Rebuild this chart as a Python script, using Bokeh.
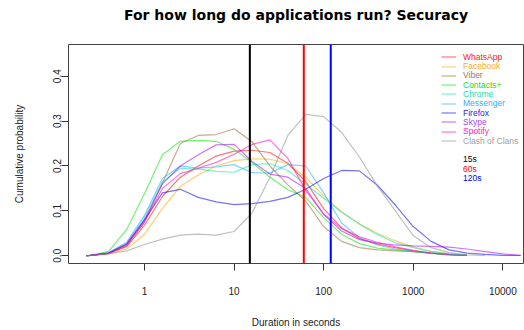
from bokeh.plotting import figure
from bokeh.models import (FixedTicker, Range1d, Span, Title, Legend, LegendItem,
                          BasicTickFormatter, PrintfTickFormatter)
from bokeh.embed import file_html
from bokeh.resources import INLINE

nan = float("nan")

# ---------------- data ----------------
log_duration = [-0.65, -0.6, -0.4, -0.2, 0.0, 0.2, 0.4, 0.6, 0.8, 1.0, 1.2, 1.4, 1.6,
                1.8, 2.0, 2.2, 2.4, 2.6, 2.8, 3.0, 3.2, 3.4, 3.6, 3.8, 4.0, 4.2]

whatsapp = [0, 0.001, 0.005, 0.020, 0.068, 0.132, 0.175, 0.200, 0.222, 0.233, 0.235, 0.230, 0.206,
            0.165, 0.105, 0.062, 0.038, 0.026, 0.018, 0.011, 0.006, 0.003, 0.001, nan, nan, nan]
facebook = [0, 0.001, 0.004, 0.015, 0.048, 0.105, 0.155, 0.180, 0.200, 0.212, 0.216, 0.215, 0.205,
            0.175, 0.133, 0.098, 0.071, 0.050, 0.033, 0.020, 0.010, 0.004, 0.001, nan, nan, nan]
viber = [0, 0.001, 0.005, 0.022, 0.075, 0.162, 0.250, 0.268, 0.270, 0.283, 0.254, 0.200, 0.158,
         0.122, 0.065, 0.032, 0.018, 0.013, 0.011, 0.009, 0.006, 0.003, 0.001, nan, nan, nan]
contacts = [0, 0.001, 0.010, 0.058, 0.138, 0.225, 0.255, 0.257, 0.255, 0.237, 0.208, 0.175, 0.147,
            0.130, 0.085, 0.048, 0.027, 0.017, 0.013, 0.009, 0.005, 0.002, 0.0005, nan, nan, nan]
chrome = [0, 0.001, 0.006, 0.028, 0.085, 0.165, 0.195, 0.193, 0.188, 0.186, 0.203, 0.205, 0.190,
          0.160, 0.128, 0.097, 0.070, 0.047, 0.029, 0.018, 0.009, 0.004, 0.001, nan, nan, nan]
messenger = [0, 0.001, 0.007, 0.030, 0.090, 0.172, 0.200, 0.195, 0.198, 0.203, 0.185, 0.184, 0.203,
             0.200, 0.140, 0.073, 0.040, 0.024, 0.015, 0.010, 0.006, 0.003, 0.001, nan, nan, nan]
firefox = [0, 0.001, 0.006, 0.025, 0.080, 0.140, 0.148, 0.130, 0.120, 0.114, 0.116, 0.121, 0.130,
           0.148, 0.172, 0.190, 0.189, 0.157, 0.113, 0.065, 0.032, 0.013, 0.006, 0.003, 0.001, 0.0005]
skype = [0, 0.001, 0.006, 0.026, 0.080, 0.160, 0.200, 0.225, 0.247, 0.248, 0.210, 0.182, 0.175,
         0.150, 0.092, 0.055, 0.036, 0.028, 0.024, 0.022, 0.021, 0.019, 0.015, 0.009, 0.004, 0.001]
spotify = [0, 0.001, 0.005, 0.024, 0.075, 0.150, 0.183, 0.195, 0.208, 0.226, 0.248, 0.258, 0.217,
           0.145, 0.093, 0.061, 0.042, 0.030, 0.020, 0.012, 0.006, 0.002, 0.0005, nan, nan, nan]
clash = [0, 0.001, 0.004, 0.011, 0.025, 0.037, 0.046, 0.048, 0.046, 0.054, 0.095, 0.175, 0.268,
         0.315, 0.310, 0.275, 0.220, 0.155, 0.100, 0.045, 0.018, 0.007, 0.002, 0.0005, nan, nan]

apps = ["WhatsApp", "Facebook", "Viber", "Contacts+", "Chrome", "Messenger",
        "Firefox", "Skype", "Spotify", "Clash of Clans"]
series = [whatsapp, facebook, viber, contacts, chrome, messenger, firefox, skype, spotify, clash]
app_colors = ["#FF0000", "#FFA500", "#996633", "#00E600", "#00EBA8", "#1AADFF",
              "#0000FF", "#AA00FF", "#FF00BB", "#8C8C8C"]
label_colors = ["#FF2020", "#FFAA22", "#A07850", "#22DD22", "#22DDB0", "#30B0FF",
                "#2020EE", "#B040FF", "#FF20C0", "#A0A0A0"]

thresholds = [15, 60, 120]
threshold_labels = ["15s", "60s", "120s"]
threshold_colors = ["#000000", "#FF0000", "#0000FF"]

x_ticks = [1, 10, 100, 1000, 10000]
y_ticks = [0.0, 0.1, 0.2, 0.3, 0.4]

duration = [10 ** v for v in log_duration]

# ---------------- layout (page pixels measured on the reference) ----------------
W, H = 524, 330
X1_PX, PX_PER_DEC = 144.0, 89.58     # x pixel of "1", pixels per decade
Y0_PX, PX_PER_UNIT = 262.0, 463.25   # y pixel of 0.0, pixels per unit
FRAME_L, FRAME_R, FRAME_T, FRAME_B = 68, 523, 44, 270


def px_x(px):
    return 10 ** ((px - X1_PX) / PX_PER_DEC)


def px_y(py):
    return (Y0_PX - py) / PX_PER_UNIT


p = figure(width=W, height=H, x_axis_type="log",
           x_range=Range1d(px_x(FRAME_L), px_x(FRAME_R)),
           y_range=Range1d(px_y(FRAME_B), px_y(FRAME_T)),
           output_backend="svg", toolbar_location=None,
           min_border_left=FRAME_L, min_border_right=W - FRAME_R,
           min_border_top=FRAME_T, min_border_bottom=H - FRAME_B)

p.background_fill_color = "white"
p.border_fill_color = "white"
p.outline_line_color = "#444444"
p.outline_line_width = 1
p.xgrid.visible = False
p.ygrid.visible = False

FONT = "Liberation Sans"

# title: empty built-in title, then a thin spacer panel and the real title above it
p.title.text = ""
p.title.standoff = 0
spacer = Title(text=" ", text_font_size="1px", standoff=17)
p.add_layout(spacer, "above")
main_title = Title(text="For how long do applications run? Securacy", align="center",
                   text_font="DejaVu Sans", text_font_size="14px", text_font_style="bold",
                   text_color="black", standoff=4)
p.add_layout(main_title, "above")

# axes
for ax in (p.xaxis[0], p.yaxis[0]):
    ax.axis_line_color = None
    ax.major_tick_line_color = "#333333"
    ax.major_tick_in = 0
    ax.major_tick_out = 7
    ax.minor_tick_line_color = None
    ax.major_label_text_font = FONT
    ax.major_label_text_font_size = "10px"
    ax.major_label_text_color = "#222222"
    ax.axis_label_text_font = FONT
    ax.axis_label_text_font_size = "10px"
    ax.axis_label_text_font_style = "normal"
    ax.axis_label_text_color = "#222222"

p.xaxis.ticker = FixedTicker(ticks=x_ticks, minor_ticks=[])
p.xaxis.formatter = BasicTickFormatter(use_scientific=False)
p.xaxis.major_label_standoff = 16
p.xaxis.axis_label = "Duration in seconds"
p.xaxis.axis_label_standoff = 19

p.yaxis.ticker = FixedTicker(ticks=y_ticks, minor_ticks=[])
p.yaxis.formatter = PrintfTickFormatter(format="%.1f")
p.yaxis.major_label_orientation = "vertical"
p.yaxis.major_label_standoff = 0
p.yaxis.axis_label = "Cumulative probability"
p.yaxis.axis_label_standoff = 26

# curves
renderers = []
for vals, col in zip(series, app_colors):
    r = p.line(duration, vals, line_color=col, line_alpha=0.55, line_width=1.2)
    renderers.append(r)

# threshold lines
thr_renderers = []
for t, col in zip(thresholds, threshold_colors):
    p.add_layout(Span(location=t, dimension="height", line_color=col, line_width=2))
    thr_renderers.append(p.line(x=[], y=[], line_color=col, line_alpha=0.5, line_width=1.3))

# legend (one small legend per entry so each label keeps its own colour)
LEG_X = 441.0
row_y = [55.7 + 9.32 * i for i in range(10)] + [158.3 + 9.3 * i for i in range(3)]
entries = list(zip(apps, label_colors, renderers)) + \
    list(zip(threshold_labels, threshold_colors, thr_renderers))
ITEM_H = 9
for (lab, tcol, r), py in zip(entries, row_y):
    leg = Legend(items=[LegendItem(label=lab, renderers=[r])],
                 location=(LEG_X - FRAME_L, FRAME_B - py - 13),
                 background_fill_alpha=0, border_line_color=None,
                 padding=0, margin=0, spacing=0,
                 glyph_width=15, glyph_height=ITEM_H, label_height=ITEM_H,
                 label_standoff=7, label_text_font=FONT, label_text_font_size="8.5px",
                 label_text_color=tcol, label_text_baseline="middle")
    p.add_layout(leg)

open("out.html", "w").write(file_html(p, INLINE))
